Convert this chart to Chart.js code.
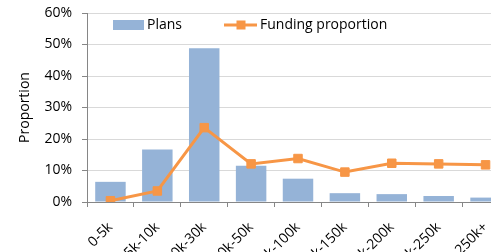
<!DOCTYPE html>
<html>
<head>
<meta charset="utf-8">
<script src="https://cdn.jsdelivr.net/npm/chart.js@4"></script>
<style>
  html, body { margin: 0; padding: 0; background: #fff; overflow: hidden; }
  #clip { width: 491px; height: 252px; overflow: hidden; position: relative; }
  #wrap { width: 516px; height: 252px; position: absolute; left: 0; top: 0; }
</style>
</head>
<body>
<div id="clip"><div id="wrap"><canvas id="chartFunding"></canvas></div></div>
<script>
const categories = ['0-5k', '5k-10k', '10k-30k', '30k-50k', '50k-100k', '100k-150k', '150k-200k', '200k-250k', '250k+'];
const plans = [6.4, 16.7, 48.8, 11.5, 7.4, 2.8, 2.5, 1.9, 1.4];
const fundingProportion = [0.4, 3.5, 23.6, 12.1, 13.8, 9.5, 12.3, 12.1, 11.8];
const yTicks = [0, 10, 20, 30, 40, 50, 60];

const FONT = "'Open Sans', sans-serif";
const BLUE = '#95B3D7';
const ORANGE = '#F79646';

/* legend drawn inside the plot, Excel style */
const innerLegend = {
  id: 'innerLegend',
  afterDatasetsDraw(chart) {
    const ctx = chart.ctx;
    const y = 25;
    ctx.save();
    ctx.font = '14px ' + FONT;
    ctx.textBaseline = 'middle';

    ctx.fillStyle = BLUE;
    ctx.fillRect(113, 20, 31, 10);
    ctx.fillStyle = '#000';
    ctx.fillText(chart.data.datasets[0].label, 147, y);

    ctx.strokeStyle = ORANGE;
    ctx.lineWidth = 3;
    ctx.beginPath();
    ctx.moveTo(224, y);
    ctx.lineTo(257, y);
    ctx.stroke();
    ctx.fillStyle = ORANGE;
    ctx.fillRect(236.5, y - 4.5, 9, 9);
    ctx.fillStyle = '#000';
    ctx.fillText(chart.data.datasets[1].label, 260, y);
    ctx.restore();
  }
};

new Chart(document.getElementById('chartFunding'), {
  type: 'bar',
  data: {
    labels: categories,
    datasets: [
      {
        type: 'bar',
        label: 'Plans',
        data: plans,
        backgroundColor: BLUE,
        categoryPercentage: 1,
        barPercentage: 0.65,
        order: 2
      },
      {
        type: 'line',
        label: 'Funding proportion',
        data: fundingProportion,
        borderColor: ORANGE,
        backgroundColor: ORANGE,
        borderWidth: 3,
        pointStyle: 'rect',
        pointRadius: 6,
        pointBorderWidth: 1,
        tension: 0,
        order: 1
      }
    ]
  },
  options: {
    responsive: true,
    maintainAspectRatio: false,
    animation: false,
    layout: { padding: { top: 13, left: 0, right: 0, bottom: 0 } },
    plugins: {
      legend: { display: false },
      tooltip: { enabled: false }
    },
    scales: {
      x: {
        offset: true,
        grid: {
          offset: true,
          drawOnChartArea: false,
          drawTicks: true,
          tickLength: 5,
          color: '#868686'
        },
        border: { display: true, color: '#868686', width: 1 },
        ticks: {
          minRotation: 45,
          maxRotation: 45,
          autoSkip: false,
          padding: 12,
          color: '#000',
          font: { family: FONT, size: 14 }
        },
        afterFit(scale) { scale.height = 50; }
      },
      y: {
        min: 0,
        max: 60,
        afterBuildTicks(scale) { scale.ticks = yTicks.map(v => ({ value: v })); },
        grid: {
          color: '#D9D9D9',
          tickLength: 5,
          drawTicks: true,
          tickColor: '#868686'
        },
        border: { display: true, color: '#868686', width: 1 },
        ticks: {
          padding: 10,
          color: '#000',
          font: { family: FONT, size: 14 },
          callback: v => v + '%'
        },
        title: {
          display: true,
          text: 'Proportion',
          color: '#000',
          font: { family: FONT, size: 14 },
          padding: { top: 17, bottom: 0 }
        },
        afterFit(scale) {
          scale.width = 87;
          scale.paddingTop = 0;
          scale.paddingBottom = 0;
        }
      }
    }
  },
  plugins: [innerLegend]
});
</script>
</body>
</html>
